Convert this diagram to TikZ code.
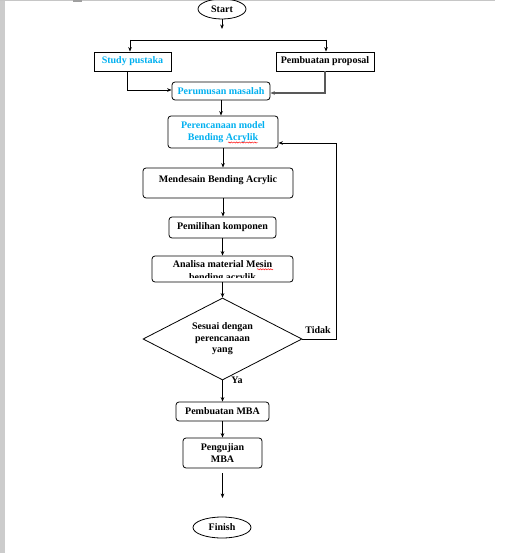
\documentclass[tikz,border=0pt]{standalone}
\usepackage{fontspec}
\setmainfont{Liberation Serif}
\usetikzlibrary{shapes.geometric,arrows.meta,decorations.pathmorphing}
\definecolor{cyantxt}{RGB}{0,176,240}
\begin{document}
\begin{tikzpicture}[x=1pt,y=-1pt,
  font=\fontsize{10}{11.5}\selectfont\bfseries,
  >={Stealth[length=4.5pt,width=3.6pt]},
  box/.style={draw, line width=0.8pt, inner sep=1pt, align=center},
  rbox/.style={box, rounded corners=3pt},
  arr/.style={->, line width=0.8pt},
  oval/.style={draw, ellipse, line width=0.8pt, inner sep=0pt},
  lbl/.style={inner sep=0pt},
  squig/.style={red, line width=0.45pt, decorate, decoration={snake, amplitude=0.6pt, segment length=2.6pt}}]
\useasboundingbox (0,0) rectangle (527,553);
\fill[white] (0,0) rectangle (527,553);
\fill[gray!40] (0,0) rectangle (4.5,553);
\fill[gray!45] (0,0) rectangle (495,1.3);
\fill[gray!75] (73,0) rectangle (82,1.6);

% nodes
\node[oval, minimum width=48, minimum height=20] (start) at (222,9) {Start};
\node[box, minimum width=77, minimum height=19, text=cyantxt] (study) at (132.5,61.5) {Study pustaka};
\node[box, minimum width=98, minimum height=19] (proposal) at (325,61.5) {Pembuatan proposal};
\node[rbox, minimum width=98, minimum height=18, text=cyantxt] (perumusan) at (221,91) {Perumusan masalah};
\node[rbox, minimum width=110, minimum height=32, text=cyantxt] (perencanaan) at (223,132) {Perencanaan model\\Bending Acrylik};
\node[rbox, minimum width=150, minimum height=30, text depth=8pt] (mendesain) at (218,183) {Mendesain Bending Acrylic};
\node[rbox, minimum width=107, minimum height=21] (pemilihan) at (222.5,227.5) {Pemilihan komponen};
\node[rbox, minimum width=141, minimum height=26] (analisa) at (222.5,269) {};
\node[lbl] (analisaA) at (222.5,264.5) {Analisa material Mesin};
\begin{scope}
\clip (150,270) rectangle (295,277.3);
\node[lbl] (analisaB) at (222.5,278) {bending acrylik};
\end{scope}
\node[draw, diamond, aspect=1.94, line width=0.8pt, minimum width=159, minimum height=82, inner sep=0pt, align=center] (dec) at (222.5,339) {Sesuai dengan\\perencanaan\\yang};
\node[rbox, minimum width=93, minimum height=19] (mba) at (222.5,411.5) {Pembuatan MBA};
\node[rbox, minimum width=79, minimum height=30] (uji) at (222.5,453) {Pengujian\\MBA};
\node[oval, minimum width=58, minimum height=21] (finish) at (222,527.5) {Finish};

\node[lbl] (tidak) at (318,330.5) {Tidak};
\node[lbl] (ya) at (237,380.5) {Ya};

% spell-check squiggles
\draw[squig] (228,142.5) -- (258,142.5);
\draw[squig] (257,269.3) -- (273,269.3);

% connectors
\coordinate (s1) at (222,29);
\draw[arr] (start.south) -- (s1);
\coordinate (h1) at (130,40);
\coordinate (h2) at (326,40);
\draw[line width=0.8pt] (h1) -- (h2);
\draw[arr] (h1) -- (h1 |- study.north);
\draw[arr] (h2) -- (h2 |- proposal.north);
\draw[arr] ([xshift=-5.5pt]study.south) |- ([yshift=1pt]perumusan.west);
\draw[->, line width=1.3pt, draw=gray!70!black] (proposal.south) |- ([yshift=-2pt]perumusan.east);
\draw[arr] (perumusan.south) -- (perumusan.south |- perencanaan.north);
\draw[arr] (perencanaan.south) -- (perencanaan.south |- mendesain.north);
\draw[arr] ([xshift=5pt]mendesain.south) -- ([xshift=5pt]mendesain.south |- pemilihan.north);
\draw[arr] (pemilihan.south) -- (pemilihan.south |- analisa.north);
\draw[arr] (analisa.south) -- (dec.north);
\draw[arr] (dec.east) -- ++(34,0) |- ([yshift=-11pt]perencanaan.east);
\draw[arr] (dec.south) -- (mba.north);
\draw[arr] (mba.south) -- (uji.north);
\coordinate (f1) at (222.5,473);
\coordinate (f2) at (222.5,498);
\draw[arr] (f1) -- (f2);
\end{tikzpicture}
\end{document}
